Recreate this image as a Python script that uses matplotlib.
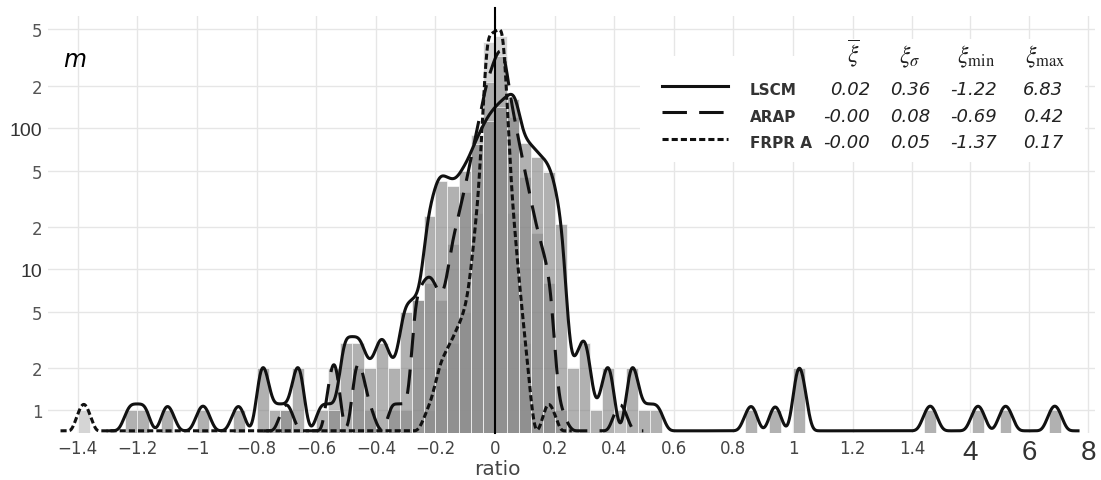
import numpy as np
import matplotlib
matplotlib.use("Agg")
import matplotlib.pyplot as plt
from matplotlib.patches import Rectangle
from matplotlib.lines import Line2D
from matplotlib.ticker import NullLocator

# ---------------- data ----------------
bin_width = 0.04
outer_bin_width = 0.404   # bins drawn beyond the axis break (4 .. 8)

# LSCM histogram: left bin edges and counts
lscm_bins = [-1.24, -1.20, -1.12, -1.00, -0.88, -0.80, -0.76, -0.72, -0.68,
             -0.60, -0.56, -0.52, -0.48, -0.44, -0.40, -0.36, -0.32, -0.28,
             -0.24, -0.20, -0.16, -0.12, -0.08, -0.04, 0.00, 0.04, 0.08,
             0.12, 0.16, 0.20, 0.24, 0.28, 0.32, 0.36, 0.44, 0.48, 0.52,
             0.84, 0.92, 1.00, 1.44]
lscm_counts = [1, 1, 1, 1, 1, 2, 1, 1, 2,
               1, 1, 3, 3, 2, 3, 2, 5, 6,
               24, 42, 39, 50, 77, 112, 140, 160, 79,
               62, 49, 21, 2, 3, 1, 2, 2, 1, 1,
               1, 1, 2, 1]
lscm_outer_bins = [4.06, 4.99, 6.66]
lscm_outer_counts = [1, 1, 1]

# ARAP histogram
arap_bins = [-0.72, -0.56, -0.48, -0.44, -0.36, -0.32, -0.28, -0.24, -0.20,
             -0.16, -0.12, -0.08, -0.04, 0.00, 0.04, 0.08, 0.12, 0.16, 0.20,
             0.40]
arap_counts = [1, 2, 2, 1, 1, 1, 6, 8, 6,
               15, 35, 90, 212, 324, 120, 45, 18, 8, 1,
               1]

# FRPR A histogram
frpr_bins = [-1.40, -0.24, -0.20, -0.16, -0.12, -0.08, -0.04, 0.00, 0.04,
             0.08, 0.16]
frpr_counts = [1, 1, 2, 3, 5, 25, 405, 450, 25,
               3, 1]

# legend table
series_names = ["LSCM", "ARAP", "FRPR A"]
stat_mean = ["0.02", "-0.00", "-0.00"]
stat_sigma = ["0.36", "0.08", "0.05"]
stat_min = ["-1.22", "-0.69", "-1.37"]
stat_max = ["6.83", "0.42", "0.17"]
stat_headers = [r"$\overline{\xi}$", r"$\xi_\sigma$", r"$\xi_{\min}$", r"$\xi_{\max}$"]

xtick_values = [-1.4, -1.2, -1.0, -0.8, -0.6, -0.4, -0.2, 0.0, 0.2, 0.4,
                0.6, 0.8, 1.0, 1.2, 1.4, 4, 6, 8]
xtick_labels = ["\u22121.4", "\u22121.2", "\u22121", "\u22120.8", "\u22120.6",
                "\u22120.4", "\u22120.2", "0", "0.2", "0.4", "0.6", "0.8", "1",
                "1.2", "1.4", "4", "6", "8"]
ytick_values = [1, 2, 5, 10, 20, 50, 100, 200, 500]
ytick_labels = ["1", "2", "5", "10", "2", "5", "100", "2", "5"]

# ---------------- broken x scale ----------------
XS = [-10.0, 1.5, 3.05, 20.0]
US = [-10.0, 1.5, 1.501, 1.501 + 16.95 * 0.0989]


def fwd(x):
    return np.interp(x, XS, US)


def inv(u):
    return np.interp(u, US, XS)


W, H = 1101, 481
fig = plt.figure(figsize=(W / 100, H / 100), dpi=100)
ax = fig.add_axes([48 / W, (H - 434) / H, 1047 / W, (434 - 17) / H])
ax.set_xscale("function", functions=(fwd, inv))
ax.set_yscale("log")

# ---------------- histograms ----------------
bar_kw = dict(align="edge", edgecolor="white", linewidth=0.7, zorder=2)
ax.bar(frpr_bins, frpr_counts, width=bin_width, color="#c4c4c4", alpha=0.7, **bar_kw)
ax.bar(arap_bins, arap_counts, width=bin_width, color="#8c8c8c", alpha=0.55, **bar_kw)
ax.bar(lscm_bins, lscm_counts, width=bin_width, color="#7e7e7e", alpha=0.6, **bar_kw)
ax.bar(lscm_outer_bins, lscm_outer_counts, width=outer_bin_width, color="#7e7e7e",
       alpha=0.6, **bar_kw)


# ---------------- smoothed curves (monotone cubic in log space + light kernel) --
def pchip_eval(xk, yk, xg):
    xk = np.asarray(xk, float)
    yk = np.asarray(yk, float)
    h = np.diff(xk)
    dlt = np.diff(yk) / h
    d = np.zeros_like(yk)
    for k in range(1, len(xk) - 1):
        if dlt[k - 1] * dlt[k] > 0:
            w1 = 2 * h[k] + h[k - 1]
            w2 = h[k] + 2 * h[k - 1]
            d[k] = (w1 + w2) / (w1 / dlt[k - 1] + w2 / dlt[k])
    idx = np.clip(np.searchsorted(xk, xg) - 1, 0, len(xk) - 2)
    t = (xg - xk[idx]) / h[idx]
    h00 = 2 * t ** 3 - 3 * t ** 2 + 1
    h10 = t ** 3 - 2 * t ** 2 + t
    h01 = -2 * t ** 3 + 3 * t ** 2
    h11 = t ** 3 - t ** 2
    return (h00 * yk[idx] + h10 * h[idx] * d[idx] + h01 * yk[idx + 1]
            + h11 * h[idx] * d[idx + 1])


def smooth_log(lefts, widths, counts, sigma, lift=0.045, floor=0.715,
               step=0.04, reach=0.048):
    lefts = np.asarray(lefts, float)
    widths = np.asarray(widths, float)
    counts = np.asarray(counts, float)
    cu = fwd(lefts + widths / 2)
    lv = np.log10(counts) + lift
    lf = np.log10(floor)
    pu = [cu[0] - reach - 0.03, cu[0] - reach]
    pl = [lf, lf]
    for j in range(len(cu)):
        pu.append(cu[j])
        pl.append(lv[j])
        if j < len(cu) - 1:
            gap = cu[j + 1] - cu[j]
            if gap > 1.5 * step:
                if gap < 2.5 * step:
                    pu.append(0.5 * (cu[j] + cu[j + 1]))
                    pl.append(lf)
                else:
                    pu += [cu[j] + reach, cu[j + 1] - reach]
                    pl += [lf, lf]
    pu += [cu[-1] + reach, cu[-1] + reach + 0.03]
    pl += [lf, lf]
    du = 0.0005
    ug = np.arange(pu[0], pu[-1], du)
    prof = pchip_eval(pu, pl, ug)
    k = max(int(4 * sigma / du), 1)
    t = np.arange(-k, k + 1) * du
    kern = np.exp(-0.5 * (t / sigma) ** 2)
    kern /= kern.sum()
    sm = np.convolve(np.pad(prof, k, mode="edge"), kern, mode="valid")
    return inv(ug), 10 ** np.maximum(sm, lf)


lw = 2.2
l_left = lscm_bins + lscm_outer_bins
l_w = [bin_width] * len(lscm_bins) + [outer_bin_width] * len(lscm_outer_bins)
x_l, y_l = smooth_log(l_left, l_w, lscm_counts + lscm_outer_counts, sigma=0.009)
x_a, y_a = smooth_log(arap_bins, [bin_width] * len(arap_bins), arap_counts, sigma=0.006)
x_f, y_f = smooth_log(frpr_bins, [bin_width] * len(frpr_bins), frpr_counts, sigma=0.004)

dash_style = (0, (8, 4))
dot_style = (0, (2, 1))
ax.plot(x_f, y_f, color="#111111", lw=lw, linestyle=dot_style, zorder=4, clip_on=False)
ax.plot(x_a, y_a, color="#111111", lw=lw, linestyle=dash_style, zorder=4, clip_on=False)
ax.plot(x_l, y_l, color="#111111", lw=lw, zorder=4, clip_on=False)

ax.axvline(0, ymin=0, ymax=1.02, color="black", lw=1.5, zorder=5, clip_on=False)

# ---------------- axes styling ----------------
ax.set_xlim(inv(-1.5), inv(2.013))
ax.set_ylim(0.69, 623)
ax.set_xticks(xtick_values, labels=xtick_labels)
ax.set_yticks(ytick_values, labels=ytick_labels)
ax.xaxis.set_minor_locator(NullLocator())
ax.yaxis.set_minor_locator(NullLocator())
ax.tick_params(length=0)
ax.tick_params(axis="x", pad=4)
ax.tick_params(axis="y", pad=4)
for t in ax.get_xticklabels():
    if t.get_text() in ("4", "6", "8"):
        t.set_fontsize(20)
        t.set_fontfamily("Liberation Sans")
        t.set_color("#333333")
    else:
        t.set_fontsize(12)
        t.set_fontfamily("DejaVu Sans")
        t.set_color("#444444")
for t in ax.get_yticklabels():
    if t.get_text() in ("10", "100"):
        t.set_fontsize(14)
        t.set_fontfamily("Liberation Sans")
        t.set_color("#333333")
    else:
        t.set_fontsize(12)
        t.set_fontfamily("DejaVu Sans")
        t.set_color("#555555")
ax.grid(True, color="#e6e6e6", lw=1.0)
ax.set_axisbelow(True)
for sp in ax.spines.values():
    sp.set_visible(False)


def fx(px):
    return px / W


def fy(py):
    return 1 - py / H


fig.text(fx(497), fy(470), "ratio", ha="center", va="center",
         fontsize=14.5, color="#444444")
fig.text(fx(75), fy(67), "m", ha="center", va="baseline",
         fontsize=17, style="italic", color="black")

# ---------------- legend / statistics table ----------------
fig.add_artist(Rectangle((fx(640), fy(163)), fx(1085) - fx(640), fy(57) - fy(163),
                         transform=fig.transFigure, facecolor="white",
                         edgecolor="none", zorder=6))
fig.add_artist(Rectangle((fx(840), fy(57)), fx(1075) - fx(840), fy(40) - fy(57),
                         transform=fig.transFigure, facecolor="white",
                         edgecolor="none", zorder=6))

row_y = [95, 122, 148]
line_y = [87, 113, 140]
styles = ["-", dash_style, dot_style]
for name, ls, ly, ry, m, s, mn, mx in zip(series_names, styles, line_y, row_y,
                                         stat_mean, stat_sigma, stat_min, stat_max):
    fig.add_artist(Line2D([fx(662), fx(728)], [fy(ly), fy(ly)],
                          transform=fig.transFigure, color="#111111", lw=lw,
                          linestyle=ls, zorder=7))
    fig.text(fx(750), fy(ry), name, ha="left", va="baseline", fontsize=11,
             fontweight="bold", color="#333333", zorder=7)
    for val, rx in zip([m, s, mn, mx], [870, 930, 997, 1063]):
        fig.text(fx(rx), fy(ry), val, ha="right", va="baseline", fontsize=13,
                 style="italic", color="#222222", zorder=7)

plt.rcParams["mathtext.fontset"] = "stix"
for hdr, hx in zip(stat_headers, [853, 910, 976, 1045]):
    fig.text(fx(hx), fy(63), hdr, ha="center", va="baseline", fontsize=17,
             color="#222222", zorder=7)

fig.savefig("out.png", dpi=100)
